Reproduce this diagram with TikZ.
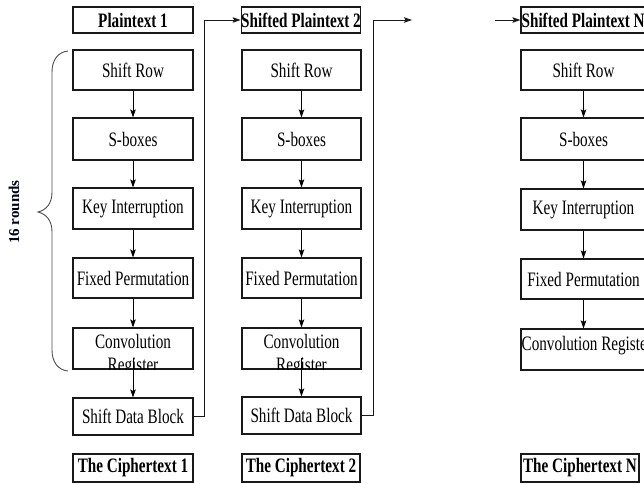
\documentclass[tikz,border=0pt]{standalone}
\usepackage{fontspec}
\setmainfont{Liberation Serif}[FakeStretch=0.74]
\newfontfamily\plainserif{Liberation Serif}
\usetikzlibrary{arrows.meta,calc}
\begin{document}
\begin{tikzpicture}[x=1pt,y=-1pt,
  box/.style={draw=black!90,line width=1.1pt,fill=white,rectangle,inner sep=0pt,
    font=\fontsize{20.5}{22}\selectfont,align=center},
  bbox/.style={box,font=\fontsize{20.5}{22}\selectfont\bfseries},
  txt/.style={inner sep=0pt,font=\fontsize{20.5}{22}\selectfont},
  btxt/.style={inner sep=0pt,font=\fontsize{20.5}{22}\selectfont\bfseries},
  tip/.style={-{Stealth[length=8pt,width=5.5pt,inset=1.5pt]}},
  arr/.style={draw=black,line width=1pt,tip},
  link/.style={draw=black!90,line width=0.9pt},
  brace/.style={draw=black!70,line width=0.9pt}]
\useasboundingbox (0,0) rectangle (644,483);
\clip (0,0) rectangle (644,483);

% column 1
\node[bbox,minimum width=120pt,minimum height=26pt] (pt1) at (133,20) {Plaintext 1};
\node[box,minimum width=120pt,minimum height=40pt] (sr1) at (133,70) {Shift Row};
\node[box,minimum width=120pt,minimum height=42pt] (sb1) at (133,139) {S-boxes};
\node[box,minimum width=120pt,minimum height=41pt] (ki1) at (133,208.5) {Key Interruption};
\node[box,minimum width=120pt,minimum height=40pt] (fp1) at (133,278) {Fixed Permutation};
\node[box,minimum width=120pt,minimum height=41pt] (cr1) at (133,348.5) {};
\begin{scope}
\clip (cr1.north west) rectangle (cr1.south east);
\node[txt,anchor=base] (cr1a) at (133,348) {Convolution};
\node[txt,anchor=base] (cr1b) at (133,371) {Register};
\end{scope}
\node[box,minimum width=120pt,minimum height=37pt] (sd1) at (133,416.5) {Shift Data Block};
\node[bbox,minimum width=120pt,minimum height=28pt] (ct1) at (133,468) {The Ciphertext 1};

% column 2
\node[bbox,minimum width=118pt,minimum height=26pt] (sp2) at (301,20) {Shifted Plaintext 2};
\node[box,minimum width=119pt,minimum height=40pt] (sr2) at (301.5,70) {Shift Row};
\node[box,minimum width=119pt,minimum height=42pt] (sb2) at (301.5,139) {S-boxes};
\node[box,minimum width=119pt,minimum height=41pt] (ki2) at (301.5,208.5) {Key Interruption};
\node[box,minimum width=119pt,minimum height=40pt] (fp2) at (301.5,278) {Fixed Permutation};
\node[box,minimum width=119pt,minimum height=41pt] (cr2) at (301.5,348.5) {};
\begin{scope}
\clip (cr2.north west) rectangle (cr2.south east);
\node[txt,anchor=base] (cr2a) at (301.5,348) {Convolution};
\node[txt,anchor=base] (cr2b) at (301.5,371) {Register};
\end{scope}
\node[box,minimum width=119pt,minimum height=37pt] (sd2) at (301.5,415.5) {Shift Data Block};
\node[bbox,minimum width=118pt,minimum height=28pt] (ct2) at (301,468) {The Ciphertext 2};

% column N
\node[box,minimum width=125pt,minimum height=26pt] (spN) at (583.5,20) {};
\node[btxt,anchor=west] (spNt) at ([xshift=1pt]spN.west) {Shifted Plaintext N};
\node[box,minimum width=125pt,minimum height=40pt] (srN) at (583.5,70) {Shift Row};
\node[box,minimum width=125pt,minimum height=42pt] (sbN) at (583.5,139) {S-boxes};
\node[box,minimum width=125pt,minimum height=41pt] (kiN) at (583.5,209.5) {Key Interruption};
\node[box,minimum width=125pt,minimum height=40pt] (fpN) at (583.5,279) {Fixed Permutation};
\node[box,minimum width=125pt,minimum height=41pt] (crN) at (583.5,349.5) {};
\node[txt,anchor=west] (crNt) at ([xshift=1pt,yshift=4pt]crN.west) {Convolution Register};
\node[bbox,minimum width=118pt,minimum height=28pt] (ctN) at (580,468) {The Ciphertext N};

% vertical arrows
\foreach \c in {1,2,N}{
  \draw[arr] (sr\c) -- (sb\c);
  \draw[arr] (sb\c) -- (ki\c);
  \draw[arr] (ki\c) -- (fp\c);
  \draw[arr] (fp\c) -- (cr\c);
}
\draw[arr] ([yshift=12pt]cr1.south) -- (sd1.north);
\draw[arr] ([yshift=12pt]cr2.south) -- (sd2.north);

% feedback links
\coordinate (j1) at (204,0);
\coordinate (j2) at (373,0);
\coordinate (e2) at (412,20);
\coordinate (sN) at (495,20);
\draw[link,tip] (sd1.east) -- (sd1.east -| j1) -- (sp2.west -| j1) -- (sp2.west);
\draw[link,tip] (sd2.east) -- (sd2.east -| j2) -- (e2 -| j2) -- (e2);
\draw[link,tip] (sN) -- (spN.west);

% brace
\draw[brace] (68,51) .. controls (58,52) and (52,60) .. (52,72) -- (52,192)
  .. controls (52,204) and (46,210) .. (38,212)
  .. controls (46,214) and (52,220) .. (52,232) -- (52,350)
  .. controls (52,362) and (58,370) .. (68,371);
\node[rotate=90,inner sep=0pt,font=\plainserif\fontsize{15}{17}\selectfont\bfseries,text=black!90!blue] (rounds) at (14,212) {16 rounds};
\end{tikzpicture}
\end{document}
